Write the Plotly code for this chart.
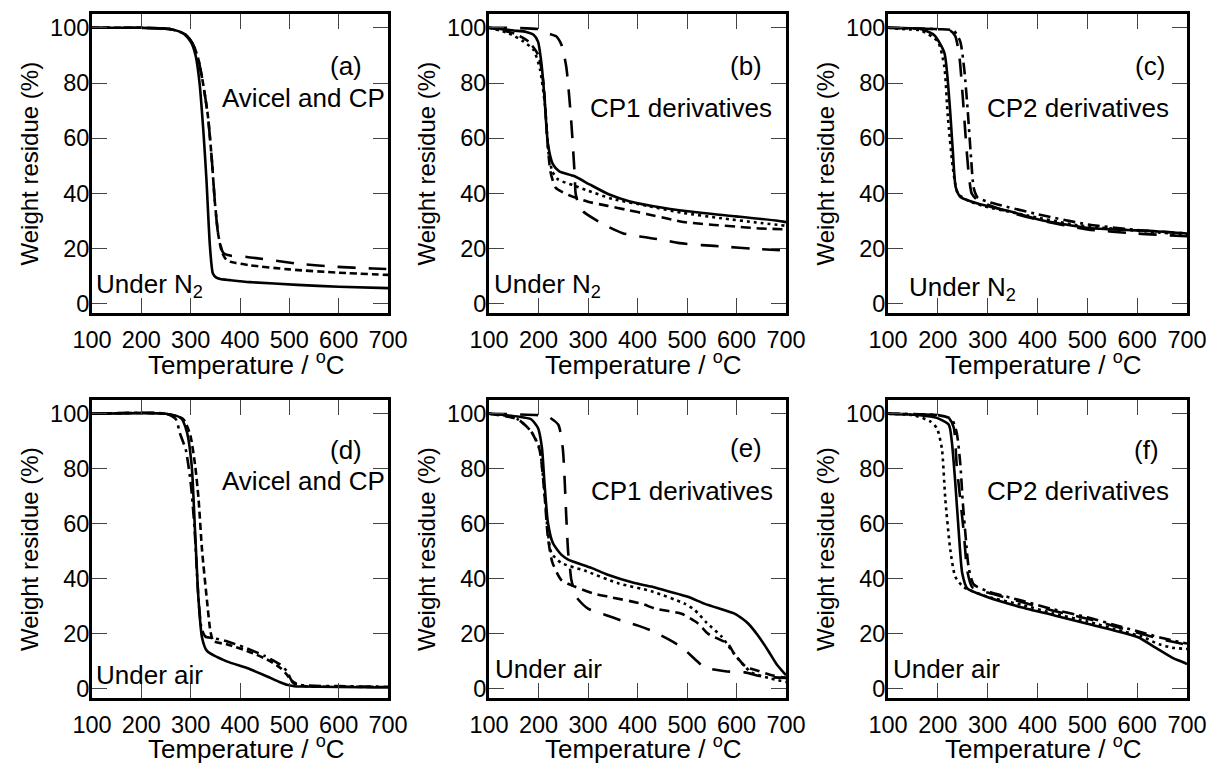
import plotly.graph_objects as go

# ---------------- data (temperature in °C, weight residue in %) ----------------
# (a) Avicel and CP, under N2
A_SOLID_T = [100, 200, 260, 285, 300, 310, 318, 326, 332, 339, 345, 352, 360, 380, 420, 516, 600, 700]
A_SOLID_W = [100, 100, 99.5, 98, 95, 90, 80, 62, 45, 21, 11, 9.5, 9, 8.6, 7.9, 6.9, 6.2, 5.7]
A_SDASH_T = [100, 200, 260, 290, 305, 315, 325, 335, 343, 349, 356, 363, 370, 380, 420, 500, 600, 700]
A_SDASH_W = [100, 100, 99.5, 97.5, 94, 89, 80, 68, 52, 37, 25, 19, 16.5, 15.3, 14, 12.5, 11.3, 10.5]
A_LDASH_T = [100, 200, 260, 290, 305, 315, 325, 335, 343, 349, 356, 366, 380, 414, 516, 589, 670, 700]
A_LDASH_W = [100, 100, 99.5, 97.5, 94, 89, 80, 68, 52, 37, 25, 18.5, 17.5, 17, 14.6, 13.5, 12.8, 12.6]

# (b) CP1 derivatives, under N2
B_SOLID_T = [100, 150, 175, 190, 199, 206, 212, 219, 229, 242, 272, 303, 343, 383, 451, 532, 599, 683, 700]
B_SOLID_W = [100, 99, 98.5, 97.5, 95, 87, 75, 58, 50.6, 48, 46.3, 43.3, 39.6, 37.2, 34.8, 32.9, 31.7, 30.1, 29.6]
B_DOT_T = [100, 140, 170, 190, 203, 213, 220, 228, 240, 270, 300, 350, 420, 490, 570, 640, 700]
B_DOT_W = [100, 98, 95, 92, 85, 72, 55, 48, 45, 43, 41, 38, 35.5, 33, 31, 29.5, 28.3]
B_MDASH_T = [100, 150, 180, 200, 210, 217, 224, 235, 260, 300, 340, 380, 420, 470, 500, 555, 600, 640, 700]
B_MDASH_W = [100, 98, 95, 90, 80, 62, 48, 42, 39.5, 37, 35.5, 34, 32.5, 30.5, 29.5, 28.6, 28, 27.4, 27]
B_LDASH_T = [100, 200, 219, 235, 246, 256, 266, 273, 275, 280, 290, 315, 340, 370, 405, 450, 485, 530, 580, 630, 700]
B_LDASH_W = [100, 99.5, 98, 97, 94, 86, 66.5, 47, 40, 36.5, 33.5, 30.5, 28, 25.6, 24.4, 23.2, 22, 21.3, 20.7, 20, 19.3]

# (c) CP2 derivatives, under N2
C_SOLID_T = [100, 167, 193, 213, 223, 230, 236, 246, 287, 341, 402, 503, 638, 700]
C_SOLID_W = [100, 99.5, 97.3, 91, 74, 55.7, 42.2, 38.6, 36, 33.7, 30.6, 27.5, 26.3, 25.5]
C_DOT_T = [100, 134, 167, 200, 213, 220, 230, 240, 260, 290, 380, 480, 600, 700]
C_DOT_W = [100, 99.5, 99, 95, 86, 68, 49.6, 40, 37.5, 35.5, 32, 28.5, 26.5, 25]
C_LDASH_T = [100, 200, 225, 235, 243, 250, 256, 262, 268, 280, 330, 400, 500, 600, 700]
C_LDASH_W = [100, 99.5, 99, 97, 90, 75, 60, 47, 40, 37.5, 34, 30.5, 27, 25.5, 24.5]
C_DASHDOT_T = [100, 200, 232, 245, 253, 260, 267, 272, 280, 300, 320, 400, 500, 600, 700]
C_DASHDOT_W = [100, 99.5, 99, 95, 85, 70, 52, 42, 38.5, 37, 36, 32.5, 28.8, 26.8, 25.5]

# (d) Avicel and CP, under air
D_SOLID_T = [100, 250, 280, 292, 302, 309, 316, 323, 333, 373, 414, 455, 480, 495, 510, 522, 600, 700]
D_SOLID_W = [100, 100, 98.5, 93.6, 81.3, 56.8, 32.2, 18.7, 13.8, 10, 7.6, 4.5, 2.5, 1.5, 1, 0.9, 0.7, 0.5]
D_SDASH_T = [100, 250, 285, 299, 309, 316, 323, 333, 340, 346, 373, 414, 455, 482, 495, 509, 536, 600, 700]
D_SDASH_W = [100, 100, 98, 92.4, 81.3, 69, 50.6, 32.2, 21, 17.4, 16.2, 13.8, 10.7, 7.6, 5.2, 2, 0.9, 0.8, 0.7]
D_DASHDOT_T = [100, 250, 270, 278, 290, 300, 308, 315, 322, 330, 345, 370, 410, 450, 480, 495, 505, 520, 600, 700]
D_DASHDOT_W = [100, 100, 98, 93, 87, 75, 58, 35, 22, 19, 18.5, 17.5, 15, 12, 9, 6.5, 3, 1.5, 1, 0.8]

# (e) CP1 derivatives, under air
E_SOLID_T = [100, 158, 185, 199, 207, 212, 219, 229, 246, 260, 307, 340, 394, 428, 448, 502, 535, 576, 597, 612, 624, 643, 664, 681, 700]
E_SOLID_W = [100, 99, 98, 94.8, 87.5, 75, 60.5, 53, 48.8, 47, 44, 41.5, 38.5, 37.2, 36.2, 33.5, 31, 28.6, 27.3, 25.5, 23.7, 19.5, 13.9, 9, 5]
E_DOT_T = [100, 130, 158, 185, 202, 212, 219, 226, 246, 293, 361, 428, 495, 516, 540, 570, 590, 610, 630, 664, 700]
E_DOT_W = [100, 99.5, 98, 93.6, 87.5, 71.5, 56.8, 49.4, 45.8, 43, 38.4, 35.5, 31, 28.6, 24, 19, 14, 9.5, 6, 4, 2.5]
E_MDASH_T = [100, 158, 185, 202, 212, 219, 228, 246, 273, 313, 341, 408, 435, 489, 523, 543, 583, 596, 620, 638, 671, 700]
E_MDASH_W = [100, 98, 93.6, 87, 71, 55, 46, 39.6, 37.2, 34.6, 33.5, 31, 29.2, 27.3, 23.7, 20, 16.3, 12.6, 7.9, 6.9, 5, 4]
E_LDASH_T = [100, 200, 219, 240, 249, 256, 260, 263, 266, 270, 276, 300, 340, 367, 401, 428, 462, 489, 516, 536, 577, 617, 652, 700]
E_LDASH_W = [100, 99.5, 99, 96, 87.5, 63, 49.4, 45, 40, 37, 33.5, 29.2, 26.6, 24.9, 23, 21.2, 18.1, 15.2, 10.8, 7.8, 6.4, 6, 4.5, 4]

# (f) CP2 derivatives, under air
F_SOLID_T = [100, 164, 198, 222, 228, 235, 242, 249, 259, 299, 367, 434, 502, 570, 603, 637, 671, 695, 700]
F_SOLID_W = [100, 99.5, 98.5, 96, 90, 75, 57, 42, 36.5, 33.4, 29.7, 26.7, 23.6, 20.5, 18.7, 15, 11.3, 9.5, 9]
F_DOT_T = [100, 150, 184, 198, 208, 215, 225, 235, 252, 300, 370, 430, 500, 570, 610, 644, 670, 700]
F_DOT_W = [100, 99.5, 97.3, 94.8, 87.5, 69, 50.6, 40.8, 37, 33.5, 30.5, 27.5, 24.5, 21, 19, 16.2, 15, 14.5]
F_LDASH_T = [100, 200, 222, 232, 238, 245, 252, 259, 269, 300, 370, 430, 500, 570, 610, 650, 700]
F_LDASH_W = [100, 99.5, 98.5, 95, 81, 69, 57, 43, 37, 35, 31.5, 28.5, 25.5, 22, 20, 18, 16]
F_DASHDOT_T = [100, 200, 228, 238, 245, 250, 256, 262, 272, 300, 370, 430, 500, 570, 610, 650, 700]
F_DASHDOT_W = [100, 99.5, 98, 93, 82, 68, 55, 44, 38, 35.5, 32, 29, 26, 22.5, 20.5, 18.5, 16.5]

PANEL_LABELS = ["(a)", "(b)", "(c)", "(d)", "(e)", "(f)"]
SAMPLE_LABELS = ["Avicel and CP", "CP1 derivatives", "CP2 derivatives",
                 "Avicel and CP", "CP1 derivatives", "CP2 derivatives"]
ATMOSPHERE = ["Under N<sub>2</sub>"] * 3 + ["Under air"] * 3
X_TICKS = [100, 200, 300, 400, 500, 600, 700]
Y_TICKS = [0, 20, 40, 60, 80, 100]
X_TITLE = "Temperature / <sup>o</sup>C"
Y_TITLE = "Weight residue (%)"

# ---------------- styling ----------------
FONT = "Liberation Sans, Arial, Helvetica, sans-serif"
FS_TICK = 23.5
FS_XTITLE = 26
FS_YTITLE = 24
FS_ANN = 26
DASH = {
    "solid": "solid",
    "dot": "3px,4px",
    "sdash": "7px,4px",
    "mdash": "10px,6px",
    "ldash": "18px,13px",
    "dashdot": "12px,5px,3px,5px",
}

panels = [
    [(A_SOLID_T, A_SOLID_W, "solid"), (A_SDASH_T, A_SDASH_W, "sdash"), (A_LDASH_T, A_LDASH_W, "ldash")],
    [(B_SOLID_T, B_SOLID_W, "solid"), (B_DOT_T, B_DOT_W, "dot"), (B_MDASH_T, B_MDASH_W, "mdash"),
     (B_LDASH_T, B_LDASH_W, "ldash")],
    [(C_SOLID_T, C_SOLID_W, "solid"), (C_DOT_T, C_DOT_W, "dot"), (C_LDASH_T, C_LDASH_W, "ldash"),
     (C_DASHDOT_T, C_DASHDOT_W, "dashdot")],
    [(D_SOLID_T, D_SOLID_W, "solid"), (D_SDASH_T, D_SDASH_W, "sdash"), (D_DASHDOT_T, D_DASHDOT_W, "dashdot")],
    [(E_SOLID_T, E_SOLID_W, "solid"), (E_DOT_T, E_DOT_W, "dot"), (E_MDASH_T, E_MDASH_W, "mdash"),
     (E_LDASH_T, E_LDASH_W, "ldash")],
    [(F_SOLID_T, F_SOLID_W, "solid"), (F_DOT_T, F_DOT_W, "dot"), (F_LDASH_T, F_LDASH_W, "ldash"),
     (F_DASHDOT_T, F_DASHDOT_W, "dashdot")],
]

W, H = 1210, 769
col_px = [(92, 388), (489, 786), (888, 1187)]
row_px = [(14, 313), (400, 698)]
xtitle_y_px = [363, 747]

fig = go.Figure()
layout = dict(
    width=W, height=H, margin=dict(l=0, r=0, t=0, b=0),
    paper_bgcolor="white", plot_bgcolor="white", showlegend=False,
    font=dict(family=FONT, size=FS_TICK, color="black"),
)
annotations = []

# annotation positions in data coordinates per panel
label_pos = [(615, 86), (620, 86), (626, 86), (615, 87), (619, 87.4), (619, 87)]
sample_pos = [(697, 74.7, "right"), (487, 71.1, "center"), (481, 71.1, "center"),
              (697, 75.5, "right"), (489, 71.8, "center"), (481, 71.8, "center")]
atm_pos = [(104, 6.5), (106, 6.5), (139, 5.5), (104, 5.0), (108, 7.4), (106, 7.4)]

for i, series in enumerate(panels):
    r, c = divmod(i, 3)
    n = i + 1
    xa = "x" if n == 1 else f"x{n}"
    ya = "y" if n == 1 else f"y{n}"
    for t, w, style in series:
        fig.add_trace(go.Scatter(
            x=t, y=w, mode="lines", xaxis=xa, yaxis=ya,
            line=dict(color="black", width=2.6, dash=DASH[style], shape="spline", smoothing=0.6),
            hoverinfo="skip",
        ))
    x0, x1 = col_px[c]
    y0, y1 = row_px[r]
    common = dict(
        showline=True, linecolor="black", linewidth=3, mirror="allticks",
        ticks="inside", ticklen=15, tickwidth=1.2, tickcolor="#444",
        showgrid=False, zeroline=False, automargin=False,
        tickfont=dict(family=FONT, size=FS_TICK, color="black"),
    )
    layout[f"xaxis{'' if n == 1 else n}"] = dict(
        common, domain=[x0 / W, x1 / W], anchor=ya, range=[100, 700],
        tickvals=X_TICKS, ticktext=[str(v) for v in X_TICKS], ticklabelstandoff=4,
    )
    layout[f"yaxis{'' if n == 1 else n}"] = dict(
        common, domain=[1 - y1 / H, 1 - y0 / H], anchor=xa, range=[-3.3, 105],
        tickvals=Y_TICKS, ticktext=[str(v) for v in Y_TICKS], ticklabelstandoff=-5,
    )
    # axis titles
    annotations.append(dict(text=X_TITLE, x=((x0 + x1) / 2 + 6) / W, y=1 - xtitle_y_px[r] / H,
                            xref="paper", yref="paper", xanchor="center", yanchor="middle",
                            showarrow=False, font=dict(family=FONT, size=FS_XTITLE)))
    annotations.append(dict(text=Y_TITLE, x=(x0 - 63) / W, y=1 - (y0 + y1) / 2 / H,
                            xref="paper", yref="paper", xanchor="center", yanchor="middle",
                            textangle=-90, showarrow=False, font=dict(family=FONT, size=FS_YTITLE)))
    lx, ly = label_pos[i]
    annotations.append(dict(text=PANEL_LABELS[i], x=lx, y=ly, xref=xa, yref=ya,
                            xanchor="center", yanchor="middle", showarrow=False,
                            font=dict(family=FONT, size=FS_ANN)))
    sx, sy, sa = sample_pos[i]
    annotations.append(dict(text=SAMPLE_LABELS[i], x=sx, y=sy, xref=xa, yref=ya,
                            xanchor=sa, yanchor="middle", showarrow=False,
                            font=dict(family=FONT, size=FS_ANN)))
    ax_, ay_ = atm_pos[i]
    annotations.append(dict(text=ATMOSPHERE[i], x=ax_, y=ay_, xref=xa, yref=ya,
                            xanchor="left", yanchor="middle", showarrow=False,
                            font=dict(family=FONT, size=FS_ANN)))

layout["annotations"] = annotations
fig.update_layout(**layout)
fig.write_html(
    "out.html",
    config={"displayModeBar": False},
    post_script=("document.body.style.margin='0';"
                 "document.body.style.overflow='hidden';"
                 "document.documentElement.style.overflow='hidden';"),
)
